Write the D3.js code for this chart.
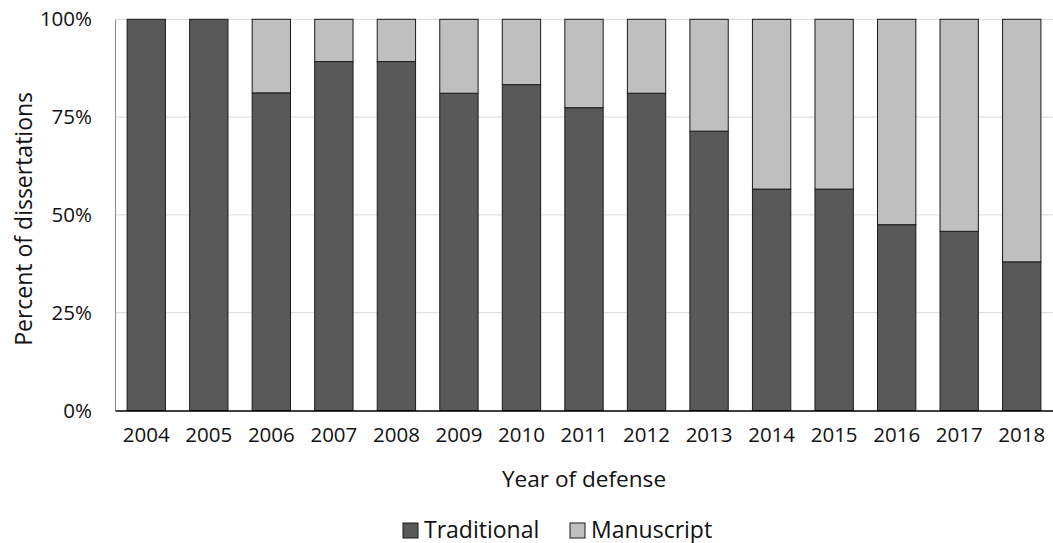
<!DOCTYPE html>
<html>
<head>
<meta charset="utf-8">
<script src="https://cdn.jsdelivr.net/npm/d3@7"></script>
<style>
  html, body { margin: 0; padding: 0; background: #fff; }
  svg { display: block; font-family: "Open Sans", sans-serif; }
</style>
</head>
<body>
<svg id="chart" width="1053" height="543"></svg>
<script>
const years = ["2004","2005","2006","2007","2008","2009","2010","2011","2012","2013","2014","2015","2016","2017","2018"];
const traditional = [100, 100, 81.2, 89.2, 89.2, 81.1, 83.3, 77.4, 81.1, 71.4, 56.6, 56.6, 47.5, 45.8, 38.0];
const manuscript = traditional.map(v => 100 - v);
const yTicks = [0, 25, 50, 75, 100];
const seriesNames = ["Traditional", "Manuscript"];
const seriesColors = ["#595959", "#bfbfbf"];

const svg = d3.select("#chart");
const plotLeft = 115, plotRight = 1053, plotTop = 19.3, plotBottom = 410.5;

const x = d3.scaleBand().domain(years).range([plotLeft, plotRight])
  .paddingInner(0.387).paddingOuter(0.1935);
const y = d3.scaleLinear().domain([0, 100]).range([plotBottom, plotTop]);

// gridlines
svg.append("g").selectAll("line").data(yTicks.filter(t => t > 0)).join("line")
  .attr("x1", plotLeft).attr("x2", plotRight)
  .attr("y1", d => y(d)).attr("y2", d => y(d))
  .attr("stroke", "#d9d9d9").attr("stroke-width", 1);

// stacked data
const rows = years.map((yr, i) => ({ year: yr, Traditional: traditional[i], Manuscript: manuscript[i] }));
const stack = d3.stack().keys(seriesNames)(rows);

svg.append("g").selectAll("g").data(stack).join("g")
  .attr("fill", (d, i) => seriesColors[i])
  .selectAll("rect").data(d => d.filter(s => s[1] - s[0] > 0)).join("rect")
  .attr("x", d => x(d.data.year))
  .attr("width", x.bandwidth())
  .attr("y", d => y(d[1]))
  .attr("height", d => y(d[0]) - y(d[1]))
  .attr("stroke", "#1a1a1a").attr("stroke-width", 1);

// y axis
const yAxis = svg.append("g").attr("transform", `translate(${plotLeft},0)`)
  .call(d3.axisLeft(y).tickValues(yTicks).tickFormat(d => d + "%").tickSize(0).tickPadding(23));
yAxis.select(".domain").attr("stroke", "#8c8c8c");
yAxis.selectAll("text").attr("font-size", 20.5).attr("fill", "#111").attr("font-family", "Open Sans");

// x axis
const xAxis = svg.append("g").attr("transform", `translate(0,${plotBottom})`)
  .call(d3.axisBottom(x).tickSize(0).tickPadding(17));
xAxis.select(".domain").attr("stroke", "#000").attr("stroke-width", 1.3);
xAxis.selectAll("text").attr("font-size", 20.5).attr("fill", "#111").attr("font-family", "Open Sans");

// axis titles
svg.append("text").attr("x", (plotLeft + plotRight) / 2).attr("y", 486.5)
  .attr("text-anchor", "middle").attr("font-size", 22.6).attr("fill", "#111")
  .text("Year of defense");
svg.append("text")
  .attr("transform", `translate(32,${(plotTop + plotBottom) / 2 + 4}) rotate(-90)`)
  .attr("text-anchor", "middle").attr("font-size", 23).attr("fill", "#111")
  .text("Percent of dissertations");

// legend
const legend = svg.append("g");
const legX = [403, 570];
seriesNames.forEach((name, i) => {
  const g = legend.append("g").attr("transform", `translate(${legX[i]},523)`);
  g.append("rect").attr("width", 15).attr("height", 15)
    .attr("fill", seriesColors[i]).attr("stroke", "#1a1a1a").attr("stroke-width", 1);
  g.append("text").attr("x", 21).attr("y", 14.5).attr("font-size", 23).attr("fill", "#111")
    .text(name);
});
</script>
</body>
</html>
